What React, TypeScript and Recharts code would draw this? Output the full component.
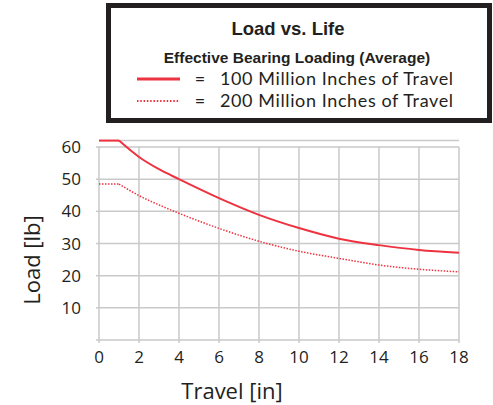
import { LineChart, Line, XAxis, YAxis, CartesianGrid, ReferenceLine, Label } from 'recharts';

// travel [in] and load [lb]
const travel = [0, 1, 2, 3, 4, 6, 8, 10, 12, 14, 16, 18];
const load100 = [62, 62, 56.9, 53.1, 50, 44.1, 38.9, 34.8, 31.5, 29.5, 28, 27.1];
const load200 = [48.5, 48.5, 44.9, 42, 39.4, 34.7, 30.7, 27.6, 25.4, 23.3, 22, 21.2];
const flatEnd = 1; // curves are flat up to here, then fall off

const xTicks = [0, 2, 4, 6, 8, 10, 12, 14, 16, 18];
const yTicks = [0, 10, 20, 30, 40, 50, 60];

const chartTitle = 'Load vs. Life';
const chartSubtitle = 'Effective Bearing Loading (Average)';
const seriesNames = ['100 Million Inches of Travel', '200 Million Inches of Travel'];

const RED = '#ee3340';
const GRID = '#c9c9c9';
const INK = '#231f20';
const FONT = '"Open Sans", sans-serif';
const HEAD = '"Liberation Sans", Arial, sans-serif';
const ROWS = 'Lato, sans-serif';

const rows = travel.map((x, i) => ({
  x,
  flat100: x <= flatEnd ? load100[i] : null,
  curve100: x >= flatEnd ? load100[i] : null,
  flat200: x <= flatEnd ? load200[i] : null,
  curve200: x >= flatEnd ? load200[i] : null,
}));

function LegendBox() {
  return (
    <svg
      width={493}
      height={405}
      style={{ position: 'absolute', top: 0, left: 0, pointerEvents: 'none' }}
    >
      <rect x={108.5} y={5.5} width={381} height={115} fill="#fff" stroke={INK} strokeWidth={5} />
      <text x={288} y={35} textAnchor="middle" fill={INK}
        style={{ fontFamily: HEAD, fontWeight: 'bold', fontSize: 18.5 }}>
        {chartTitle}
      </text>
      <text x={297} y={62.5} textAnchor="middle" fill={INK}
        style={{ fontFamily: HEAD, fontWeight: 'bold', fontSize: 15.5 }}>
        {chartSubtitle}
      </text>
      {seriesNames.map((name, i) => {
        const y = 79 + i * 22;
        return (
          <g key={name}>
            <line x1={137} x2={180} y1={y} y2={y} stroke={RED}
              strokeWidth={i === 0 ? 3 : 2}
              strokeDasharray={i === 0 ? undefined : '1.5 1.8'} />
            <text x={200} y={y + 6} textAnchor="middle" fill={INK}
              style={{ fontFamily: ROWS, fontSize: 18 }}>=</text>
            <text x={220} y={y + 6} fill={INK} textLength={233} lengthAdjust="spacing"
              style={{ fontFamily: ROWS, fontSize: 18 }}>
              {name}
            </text>
          </g>
        );
      })}
    </svg>
  );
}

export default function App() {
  return (
    <div style={{ position: 'fixed', top: 0, left: 0, width: 493, height: 405, background: '#fff' }}>
      <LineChart
        width={493}
        height={405}
        data={rows}
        margin={{ top: 140.6, right: 34, bottom: 0, left: 0 }}
      >
        <CartesianGrid vertical={false} stroke={GRID} strokeWidth={1.5} />
        {xTicks.map(t => (
          <ReferenceLine
            key={t}
            segment={[{ x: t, y: 0 }, { x: t, y: 60 }]}
            stroke={GRID}
            strokeWidth={1.5}
          />
        ))}
        <XAxis
          dataKey="x"
          type="number"
          domain={[0, 18]}
          ticks={xTicks}
          interval={0}
          axisLine={false}
          tickLine={{ stroke: GRID, strokeWidth: 1.5 }}
          tickSize={3}
          tickMargin={8}
          tick={{ fill: INK, fontSize: 17, fontFamily: FONT }}
          height={65}
        >
          <Label
            content={() => (
              <text x={232} y={399} textAnchor="middle" fill={INK}
                style={{ fontFamily: FONT, fontSize: 22 }}>
                Travel [in]
              </text>
            )}
          />
        </XAxis>
        <YAxis
          type="number"
          domain={[0, 62]}
          ticks={yTicks}
          interval={0}
          tickFormatter={(v: number) => (v === 0 ? '' : String(v))}
          axisLine={false}
          tickLine={{ stroke: GRID, strokeWidth: 1.5 }}
          tickSize={3}
          tickMargin={15}
          tick={{ fill: INK, fontSize: 17, fontFamily: FONT }}
          width={99}
        >
          <Label
            content={() => (
              <text x={0} y={0} textAnchor="middle" fill={INK}
                transform="translate(40,260) rotate(-90)"
                style={{ fontFamily: FONT, fontSize: 22 }}>
                Load [lb]
              </text>
            )}
          />
        </YAxis>
        <Line dataKey="flat100" type="linear" stroke={RED} strokeWidth={2} dot={false}
          isAnimationActive={false} connectNulls={false} />
        <Line dataKey="curve100" type="monotone" stroke={RED} strokeWidth={2} dot={false}
          isAnimationActive={false} connectNulls={false} />
        <Line dataKey="flat200" type="linear" stroke={RED} strokeWidth={1.5} dot={false}
          strokeDasharray="1.5 1.5" isAnimationActive={false} connectNulls={false} />
        <Line dataKey="curve200" type="monotone" stroke={RED} strokeWidth={1.5} dot={false}
          strokeDasharray="1.5 1.5" isAnimationActive={false} connectNulls={false} />
      </LineChart>
      <LegendBox />
    </div>
  );
}
